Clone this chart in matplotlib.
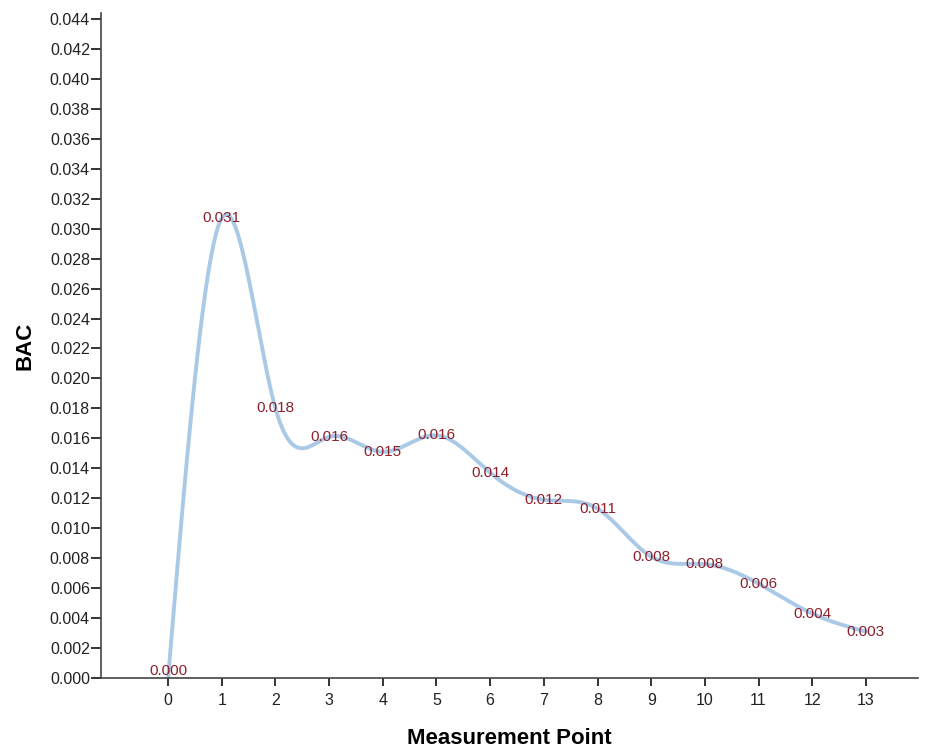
import numpy as np
import matplotlib
matplotlib.use('Agg')
import matplotlib.pyplot as plt

# data
points = [0, 1, 2, 3, 4, 5, 6, 7, 8, 9, 10, 11, 12, 13]
bac = [0.0, 0.0307, 0.0180, 0.0161, 0.0151, 0.0162, 0.0137,
       0.0119, 0.0113, 0.0081, 0.0076, 0.0063, 0.0043, 0.0031]
y_ticks = [i * 0.002 for i in range(23)]


def natural_spline(x, y, n=40):
    # natural cubic spline through the points, only used for drawing the smooth line
    x = np.asarray(x, float)
    y = np.asarray(y, float)
    k = len(x)
    h = np.diff(x)
    A = np.zeros((k, k))
    b = np.zeros(k)
    A[0, 0] = 1
    A[-1, -1] = 1
    for i in range(1, k - 1):
        A[i, i - 1] = h[i - 1]
        A[i, i] = 2 * (h[i - 1] + h[i])
        A[i, i + 1] = h[i]
        b[i] = 3 * ((y[i + 1] - y[i]) / h[i] - (y[i] - y[i - 1]) / h[i - 1])
    c = np.linalg.solve(A, b)
    xs, ys = [], []
    for i in range(k - 1):
        bi = (y[i + 1] - y[i]) / h[i] - h[i] * (2 * c[i] + c[i + 1]) / 3
        di = (c[i + 1] - c[i]) / (3 * h[i])
        t = np.linspace(0, h[i], n, endpoint=(i == k - 2))
        xs.append(x[i] + t)
        ys.append(y[i] + bi * t + c[i] * t ** 2 + di * t ** 3)
    return np.concatenate(xs), np.concatenate(ys)


plt.rcParams['font.family'] = ['Liberation Sans', 'DejaVu Sans']

fig = plt.figure(figsize=(9.25, 7.47), dpi=100)
ax = fig.add_axes([0.1092, 0.0924, 0.8832, 0.8902])

sx, sy = natural_spline(points, bac)
ax.plot(sx, sy, color='#a9c9e6', lw=2.8, solid_capstyle='round', zorder=2)

for x, v in zip(points, bac):
    ax.text(x, v, f'{v:.3f}', color='#8e1f2b', fontsize=11,
            ha='center', va='bottom' if v == 0 else 'center', zorder=3)

ax.set_xlim(-1.25, 13.97)
ax.set_ylim(0, 0.0444)
ax.set_xticks(points)
ax.set_yticks(y_ticks)
ax.set_yticklabels([f'{t:.3f}' for t in y_ticks])

for s in ['top', 'right']:
    ax.spines[s].set_visible(False)
for s in ['left', 'bottom']:
    ax.spines[s].set_color('#444444')
    ax.spines[s].set_linewidth(1.2)

ax.tick_params(axis='y', direction='out', length=7, width=1.4, colors='#333333',
               labelsize=11.5, pad=1, labelcolor='#222222')
ax.tick_params(axis='x', direction='out', length=6, width=1.4, colors='#333333',
               labelsize=11.5, pad=5, labelcolor='#222222')

ax.set_xlabel('Measurement Point', fontsize=16, fontweight='bold', labelpad=14)
ax.set_ylabel('BAC', fontsize=16, fontweight='bold', labelpad=10)

fig.savefig('out.png', dpi=100)
